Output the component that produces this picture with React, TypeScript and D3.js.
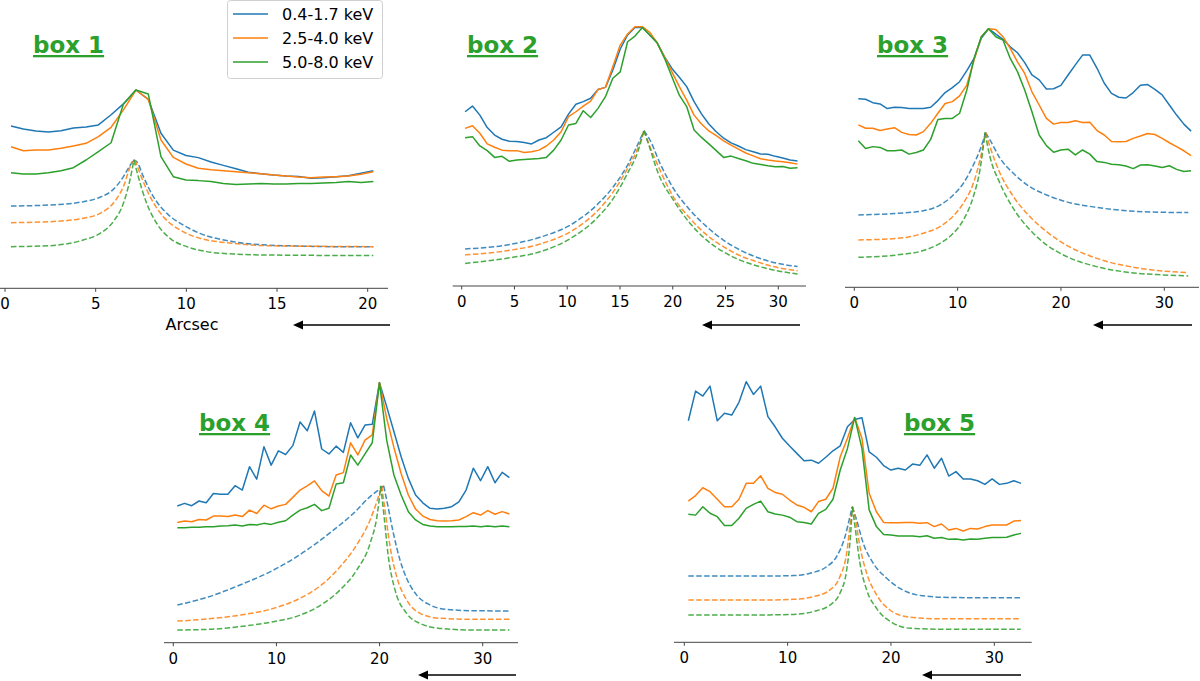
import * as d3 from "d3";

type Pt = [number, number];

const BLUE = "#1f77b4";
const ORANGE = "#ff7f0e";
const GREEN = "#2ca02c";
const bandLabels = ["0.4-1.7 keV", "2.5-4.0 keV", "5.0-8.0 keV"];
const bandColors = [BLUE, ORANGE, GREEN];

// ---- box 1 (profile values, arbitrary units, peak = 100)
const box1X = [0.33, 1.01, 1.71, 2.39, 3.09, 3.77, 4.47, 5.15, 5.85, 6.53, 7.22, 7.9, 8.6, 9.28, 9.98, 10.66, 11.36, 12.04, 12.74, 13.42, 14.12, 14.8, 15.5, 16.18, 16.88, 17.56, 18.26, 18.93, 19.63, 20.31];
const box1Soft = [81.8, 80.3, 79.3, 78.8, 79.4, 80.8, 81.3, 82.4, 87.5, 93, 100, 95.3, 78.2, 69.7, 67, 65.9, 63.7, 62, 60.3, 58.5, 57.8, 57.1, 56.6, 56.4, 55.5, 55.8, 56.3, 56.8, 58, 59.3];
const box1Mid = [71.4, 69.4, 69.7, 69.7, 70.6, 71.8, 73.1, 76.5, 81.2, 90, 100, 95.3, 74.8, 66, 62.7, 60.5, 59.8, 59.3, 58.8, 58.3, 57.8, 57.1, 56.6, 56.1, 55.8, 56.1, 56.3, 56.6, 57.5, 58.8];
const box1Hard = [58.3, 57.6, 57.6, 58.3, 59.3, 60.8, 64.7, 68.9, 73.4, 92.9, 100, 98, 66.4, 56.3, 54.6, 54.3, 53.8, 52.9, 52.4, 52.6, 52.9, 52.6, 52.6, 52.9, 52.9, 53.1, 53.3, 53.8, 53.3, 53.8];
const box1ModelSoft: Pt[] = [[0.33, 41.5], [2.48, 42], [4.32, 43.7], [5.24, 45.9], [5.97, 49.9], [6.53, 56.3], [6.8, 60.5], [7.08, 64.7], [7.26, 63.9], [7.63, 56.3], [8.18, 46.2], [8.92, 37.8], [9.83, 31.9], [10.75, 27.7], [12.59, 23.5], [14.43, 21.8], [16.27, 21.3], [18.1, 21], [20.31, 21]];
const box1ModelMid: Pt[] = [[0.33, 33.1], [2.48, 33.6], [4.32, 35.3], [5.24, 37.8], [5.97, 42.9], [6.53, 51.3], [6.99, 63], [7.17, 64.7], [7.44, 58], [8, 46.2], [8.73, 36.1], [9.65, 29.4], [10.75, 25.2], [12.59, 22.7], [14.43, 21.5], [20.31, 21]];
const box1ModelHard: Pt[] = [[0.33, 21], [2.48, 21.5], [4.32, 24.4], [5.24, 27.7], [5.97, 33.6], [6.53, 42.9], [6.89, 54.6], [7.11, 64.7], [7.35, 56.3], [7.81, 42.9], [8.36, 32.8], [9.1, 25.2], [10.02, 21], [11.12, 18.5], [12.59, 17.3], [14.43, 16.8], [20.31, 16.5]];

// ---- box 2
const box2X = [0.32, 1.02, 1.72, 2.42, 3.12, 3.82, 4.52, 5.22, 5.92, 6.62, 7.32, 8.02, 8.72, 9.42, 10.12, 10.82, 11.52, 12.22, 12.92, 13.62, 14.32, 15.02, 15.72, 16.42, 17.12, 17.82, 18.52, 19.22, 19.92, 20.62, 21.32, 22.02, 22.72, 23.42, 24.12, 24.82, 25.52, 26.22, 26.92, 27.62, 28.32, 29.02, 29.72, 30.42, 31.12, 31.82];
const box2Soft = [67.2, 69.4, 65.9, 61.1, 58.2, 56.6, 55.8, 55.7, 55.3, 54.8, 56.3, 57.2, 59.3, 61.4, 66.3, 70.1, 71.1, 72.4, 75.8, 76.6, 83.3, 91.4, 96.8, 99.7, 99.7, 96.8, 93.8, 88.4, 83.9, 80.5, 76.9, 71.1, 66.4, 62.5, 59.5, 57, 55.2, 54, 52.6, 51.8, 50.9, 50.8, 50, 49.4, 48.6, 48.2];
const box2Mid = [60.8, 61.8, 58.9, 54.8, 53.5, 52.4, 52.2, 52.2, 51.5, 51.8, 52.4, 54, 56.3, 59.5, 65.3, 67.2, 69.4, 71.3, 75.8, 76.6, 84.6, 92.9, 97.2, 100, 100, 97.8, 93.8, 88.4, 82.6, 76.9, 71.7, 65.9, 62.5, 59.8, 58, 56, 54.3, 52.8, 51.3, 50.2, 49.1, 48.6, 48.2, 47.9, 47.5, 47];
const box2Hard = [57.2, 57.6, 54, 52.2, 49.6, 50, 48.1, 48.6, 48.8, 49, 49.2, 49.6, 52.4, 56.3, 62.1, 62.7, 67.6, 65, 68.5, 73, 80.1, 82.6, 94.2, 96.4, 99.7, 96.8, 93.8, 87.8, 80.7, 73.6, 69.2, 60.2, 57.3, 54.8, 52.2, 49.6, 50.1, 49.2, 48.3, 47.3, 46.9, 46.4, 46, 46.1, 45.4, 45.6];
const box2ModelSoft: Pt[] = [[0.32, 14.3], [4.26, 15.8], [7.42, 18.8], [10.58, 24.2], [12.79, 31.2], [14.37, 38.3], [15.63, 46], [16.58, 53.7], [17.27, 59.9], [17.84, 56.3], [18.79, 47.3], [20.05, 37.7], [21.63, 29.3], [23.21, 22.9], [24.79, 17.7], [26.37, 13.9], [27.94, 11.1], [29.52, 9.1], [31.83, 7.5]];
const box2ModelMid: Pt[] = [[0.32, 12], [4.26, 13.6], [7.42, 16.2], [10.58, 21.6], [12.79, 28.7], [14.37, 36.4], [15.63, 44.7], [16.74, 53.7], [17.27, 59.9], [17.84, 53.7], [18.79, 44.7], [20.05, 34.4], [21.63, 26.1], [23.21, 19.7], [24.79, 15.2], [26.37, 11.7], [27.94, 9.4], [29.52, 7.5], [31.83, 5.9]];
const box2ModelHard: Pt[] = [[0.32, 8.7], [4.26, 10.7], [7.42, 13.2], [10.58, 19], [12.79, 26.1], [14.37, 33.8], [15.63, 42.8], [16.74, 52.4], [17.27, 59.9], [17.68, 55], [18.63, 43.4], [20.05, 33.2], [21.63, 24.2], [23.21, 17.7], [24.79, 13.2], [26.37, 10], [27.94, 7.8], [29.52, 6.2], [31.83, 4.6]];

// ---- boxes 3-5 share the same sampling
const box345X = [0.39, 1.09, 1.79, 2.49, 3.19, 3.89, 4.59, 5.29, 5.99, 6.69, 7.39, 8.09, 8.79, 9.49, 10.19, 10.89, 11.59, 12.29, 12.99, 13.69, 14.39, 15.09, 15.79, 16.49, 17.19, 17.89, 18.59, 19.29, 19.99, 20.69, 21.39, 22.09, 22.79, 23.49, 24.19, 24.89, 25.59, 26.29, 26.99, 27.69, 28.39, 29.09, 29.79, 30.49, 31.19, 31.89, 32.59];

const box3Soft = [72.9, 72.7, 71.4, 70.9, 69.1, 69.6, 69.5, 69.1, 69.1, 69.1, 69.6, 72.2, 75.3, 77.2, 79.5, 83.8, 88.5, 96.3, 100, 97.9, 95.9, 93, 90.7, 86.9, 82.1, 80.2, 76.7, 76.8, 78.1, 82.1, 86, 89.8, 89.8, 84.7, 78.9, 75, 73.5, 73.2, 75.3, 78.1, 78.4, 76.5, 74.4, 70.5, 66.6, 63.1, 60.4];
const box3Mid = [62.8, 61.5, 61.5, 60.6, 61.2, 61.7, 59.9, 59.1, 58.9, 60.2, 63.4, 67.3, 71.1, 71.8, 74, 78.2, 87.9, 96.9, 100, 99.7, 96.9, 92.4, 87.2, 82.7, 75.6, 70.5, 65.3, 63.1, 63.7, 63.7, 64.4, 63.7, 63.8, 60.6, 58.9, 56.4, 56.3, 56.4, 57.6, 58.5, 59.5, 59.1, 57.6, 55.9, 54.4, 52.8, 50.9];
const box3Hard = [56.7, 53.7, 54.4, 54.1, 52.8, 52.8, 53.1, 51.5, 52.1, 53.1, 57.2, 64.9, 65.3, 65.3, 67.3, 76.3, 88.5, 96.9, 100, 96.9, 95.6, 88.5, 83.4, 76.3, 67.9, 58.9, 54.8, 52.2, 53.1, 53.4, 51.2, 53.1, 51.5, 48.6, 48.3, 47.6, 47.4, 46.9, 45.9, 47.3, 47.4, 46.9, 46.3, 47, 45.6, 44.8, 45.1];
const box3ModelSoft: Pt[] = [[0.39, 28], [4.1, 28.6], [6.68, 29.6], [8.29, 31.8], [9.58, 35.7], [10.55, 40.2], [11.52, 47.3], [12.16, 53.1], [12.71, 59.8], [13.13, 57], [14.1, 49.9], [15.39, 44.1], [17, 38.9], [18.61, 35.7], [20.23, 33.4], [23.45, 30.9], [26.68, 29.5], [29.9, 29], [32.32, 28.9]];
const box3ModelMid: Pt[] = [[0.39, 18.3], [4.1, 18.9], [6.68, 20.9], [8.29, 23.5], [9.58, 27.6], [10.55, 32.5], [11.52, 40.2], [12.16, 49.2], [12.71, 59.8], [13.13, 54.4], [14.1, 44.1], [15.39, 35.1], [17, 27.3], [18.61, 21.5], [20.23, 17], [23.45, 11.2], [26.68, 8], [29.9, 6.3], [32.32, 5.7]];
const box3ModelHard: Pt[] = [[0.39, 11.6], [4.1, 12.5], [6.68, 14.2], [8.29, 17], [9.58, 20.9], [10.55, 26], [11.52, 35.1], [12.16, 45.4], [12.65, 59.8], [13.13, 50.5], [14.1, 40.2], [15.39, 30.5], [17, 22.2], [18.61, 16.4], [20.23, 12.5], [23.45, 8], [26.68, 5.7], [29.9, 4.8], [32.32, 4.4]];

const box4Soft = [52.6, 53.6, 52.7, 54.5, 53.8, 57.4, 57.1, 57.1, 60.4, 58.7, 67.7, 62.9, 75.4, 68.3, 73.8, 72.4, 75.8, 84.9, 81.5, 89.1, 74.5, 72.6, 75.6, 73.2, 84.6, 78.8, 83.7, 84, 100, 90.8, 81.2, 71.5, 63.2, 56.8, 53.8, 51.7, 51.4, 51.7, 52.3, 54.2, 58.7, 67.1, 62.3, 67.7, 61.5, 65.5, 63.5];
const box4Mid = [46.2, 46.8, 46.5, 47.4, 47.2, 48.7, 48.7, 48.5, 49.1, 48.5, 51, 49.7, 52.9, 51.5, 52.6, 53.2, 55.9, 58.7, 60.3, 62.2, 58.5, 56.4, 64.5, 65.4, 76.9, 72.2, 77.9, 79.9, 100, 86.3, 75.1, 65.1, 56.8, 51.4, 48.7, 47.4, 46.9, 46.8, 46.9, 47.2, 48.5, 50, 49.1, 50.8, 49.4, 50.4, 49.5];
const box4Hard = [44.2, 44.2, 44.4, 44.4, 44.6, 44.6, 44.9, 45, 45.3, 44.9, 45.5, 45.3, 45.9, 45.5, 46.3, 46.9, 49.1, 51, 51.9, 53.2, 50.8, 51.7, 61, 61.5, 72.2, 68.3, 72.6, 76.9, 100, 77.9, 64.5, 56.8, 50.4, 47.2, 45.5, 44.9, 44.6, 44.6, 44.6, 44.7, 44.7, 44.9, 44.6, 44.9, 44.6, 44.9, 44.6];
const box4ModelSoft: Pt[] = [[0.39, 14.5], [3.23, 17.4], [6.47, 22.2], [9.7, 27.9], [12.93, 35.6], [15.52, 43.3], [17.46, 49.7], [19.08, 56.2], [19.89, 58.7], [20.4, 60.3], [20.69, 54.9], [21.34, 42.1], [21.98, 31.8], [22.63, 24.7], [23.6, 18.3], [24.9, 14.5], [26.51, 12.8], [29.1, 12.3], [32.59, 12.2]];
const box4ModelMid: Pt[] = [[0.39, 8.3], [3.23, 9.1], [6.47, 10.6], [9.7, 13.2], [12.29, 17.1], [14.55, 22.8], [16.17, 29.2], [17.78, 37.6], [19.08, 47.2], [19.79, 54.9], [20.21, 60.3], [20.53, 51], [21.02, 36.9], [21.66, 25.4], [22.63, 16.4], [23.92, 11.3], [25.86, 9.4], [29.1, 9], [32.59, 9]];
const box4ModelHard: Pt[] = [[0.39, 4.9], [3.23, 5.1], [6.47, 6.2], [9.7, 8.1], [12.29, 10.6], [14.55, 15.1], [16.17, 20.3], [17.78, 27.9], [19.08, 38.2], [19.79, 49.7], [20.11, 60.3], [20.44, 48.5], [20.85, 33.1], [21.5, 20.3], [22.63, 11.3], [23.92, 7.4], [25.86, 5.5], [29.1, 4.9], [32.59, 4.9]];

const box5Soft = [85, 96.4, 94.5, 98.3, 85, 87.9, 87.2, 92.1, 100, 95.1, 98.3, 86.6, 82.7, 78.3, 75.3, 72.5, 69.7, 69.9, 68.7, 71, 73.5, 75.4, 82.7, 85.5, 86.2, 73.1, 71, 67.8, 66.1, 66.8, 66.1, 68.4, 67.9, 71.9, 66.8, 70.6, 63.8, 65.5, 62.7, 62.7, 62, 60.6, 62.7, 60.6, 61, 62, 61];
const box5Mid = [54.2, 56.3, 59.3, 57.8, 54.9, 52, 52, 54.9, 61, 61, 63.9, 59.1, 57.5, 56.8, 54.6, 52.7, 51.8, 50.1, 54, 54.9, 59.1, 71.2, 78.3, 86.3, 78.3, 57.2, 50.1, 46, 45.9, 45.9, 46, 46, 45.7, 45.9, 44.4, 45.4, 43.1, 43.7, 42.7, 43.7, 43.5, 44.4, 45, 45, 45, 46.5, 46.7];
const box5Hard = [49.1, 48.8, 52, 49.5, 48.2, 44.8, 44.8, 47.6, 51.4, 52.9, 54.2, 50.1, 49.2, 48.8, 48, 46.3, 46, 45.4, 49.5, 51, 54.9, 66.1, 74.4, 86.3, 74.4, 50.8, 44.4, 41.4, 41.2, 40.8, 40.8, 40.8, 40.5, 40.9, 39.9, 40.2, 39.5, 39.6, 39.3, 39.6, 39.5, 39.9, 40.2, 40.2, 40.3, 41.2, 41.8];
const box5ModelSoft: Pt[] = [[0.39, 25.4], [7.32, 25.4], [10.55, 25.6], [12.16, 26.5], [13.77, 29], [14.74, 32.9], [15.55, 40.5], [16.03, 48.2], [16.26, 52], [16.68, 46.9], [17.32, 38], [18.29, 30.3], [19.58, 24.6], [20.87, 20.7], [22.48, 18.2], [25.06, 17.3], [28.29, 17.1], [32.55, 17.1]];
const box5ModelMid: Pt[] = [[0.39, 16.2], [7.32, 16.2], [10.55, 16.5], [12.48, 17.5], [14.1, 20.1], [15.06, 25.2], [15.71, 34.1], [16.1, 46.9], [16.29, 52], [16.52, 48.2], [17, 36.7], [17.65, 26.5], [18.61, 18.2], [19.9, 12.4], [21.84, 9.6], [25.06, 9], [32.55, 9]];
const box5ModelHard: Pt[] = [[0.39, 10.5], [7.32, 10.5], [10.55, 10.7], [12.48, 11.8], [14.1, 14.3], [15.06, 18.8], [15.71, 27.7], [16.1, 41.8], [16.26, 52], [16.52, 44.4], [17, 30.3], [17.65, 20.1], [18.61, 13], [20.23, 7.3], [21.84, 5.4], [25.06, 5], [32.55, 5]];

const ticks1 = [0, 5, 10, 15, 20];
const ticks2 = [0, 5, 10, 15, 20, 25, 30];
const ticks345 = [0, 10, 20, 30];

interface PanelDef {
  title: string;
  titleX: number;
  titleY: number;
  x: number[];
  profiles: number[][];
  models: Pt[][];
  ticks: number[];
  xDomain: [number, number];
  xRange: [number, number];
  spine: [number, number];
  yRange: [number, number];
  arrow: [number, number, number];
  xLabel?: boolean;
}

const panels: PanelDef[] = [
  { title: "box 1", titleX: 33, titleY: 53, x: box1X, profiles: [box1Soft, box1Mid, box1Hard], models: [box1ModelSoft, box1ModelMid, box1ModelHard], ticks: ticks1, xDomain: [0, 20], xRange: [5, 367.7], spine: [0, 388], yRange: [288.3, 90], arrow: [293, 390, 325], xLabel: true },
  { title: "box 2", titleX: 467, titleY: 53, x: box2X, profiles: [box2Soft, box2Mid, box2Hard], models: [box2ModelSoft, box2ModelMid, box2ModelHard], ticks: ticks2, xDomain: [0, 30], xRange: [461.7, 778.3], spine: [452.7, 806], yRange: [286, 26.7], arrow: [702, 800, 325] },
  { title: "box 3", titleX: 877, titleY: 53, x: box345X, profiles: [box3Soft, box3Mid, box3Hard], models: [box3ModelSoft, box3ModelMid, box3ModelHard], ticks: ticks345, xDomain: [0, 30], xRange: [854.3, 1164.3], spine: [845, 1199], yRange: [287.3, 28.7], arrow: [1093, 1192, 325] },
  { title: "box 4", titleX: 199, titleY: 431, x: box345X, profiles: [box4Soft, box4Mid, box4Hard], models: [box4ModelSoft, box4ModelMid, box4ModelHard], ticks: ticks345, xDomain: [0, 30], xRange: [173.3, 482.7], spine: [164, 518], yRange: [642.7, 382.7], arrow: [418, 516, 675] },
  { title: "box 5", titleX: 904, titleY: 431, x: box345X, profiles: [box5Soft, box5Mid, box5Hard], models: [box5ModelSoft, box5ModelMid, box5ModelHard], ticks: ticks345, xDomain: [0, 30], xRange: [684.3, 994.3], spine: [674, 1031.7], yRange: [642.3, 381.7], arrow: [922, 1021, 675] },
];

const FONT = "DejaVu Sans, sans-serif";

function Panel({ p }: { p: PanelDef }) {
  const x = d3.scaleLinear().domain(p.xDomain).range(p.xRange);
  const y = d3.scaleLinear().domain([0, 100]).range(p.yRange);
  const polyline = d3.line<Pt>().x((d) => x(d[0])).y((d) => y(d[1]));
  const smooth = d3.line<Pt>().x((d) => x(d[0])).y((d) => y(d[1])).curve(d3.curveMonotoneX);
  const axisY = p.yRange[0];
  const [ax0, ax1, ay] = p.arrow;

  return (
    <g>
      {/* model curves: smooth on each side of the cusp */}
      {p.models.map((m, i) => {
        const k = d3.maxIndex(m, (d) => d[1]);
        return [m.slice(0, k + 1), m.slice(k)].map((half, j) => (
          <path
            key={`m${i}-${j}`}
            d={smooth(half) ?? ""}
            fill="none"
            stroke={bandColors[i]}
            strokeWidth={1.5}
            strokeDasharray="5.5,2.4"
            opacity={0.85}
          />
        ));
      })}
      {p.profiles.map((vals, i) => (
        <path
          key={`p${i}`}
          d={polyline(vals.map((v, j) => [p.x[j], v] as Pt)) ?? ""}
          fill="none"
          stroke={bandColors[i]}
          strokeWidth={1.5}
          strokeLinejoin="round"
        />
      ))}

      {/* x axis */}
      <line x1={p.spine[0]} x2={p.spine[1]} y1={axisY} y2={axisY} stroke="#444" strokeWidth={1} />
      {p.ticks.map((t) => (
        <g key={t} transform={`translate(${x(t)},${axisY})`}>
          <line y2={3.5} stroke="#444" strokeWidth={1} />
          <text y={21} textAnchor="middle" fontSize={15} fontFamily={FONT} fill="#000">
            {t}
          </text>
        </g>
      ))}
      {p.xLabel && (
        <text x={192} y={330} textAnchor="middle" fontSize={16} fontFamily={FONT} fill="#000">
          Arcsec
        </text>
      )}

      {/* direction arrow */}
      <line x1={ax0 + 8} x2={ax1} y1={ay} y2={ay} stroke="#000" strokeWidth={1.6} />
      <path d={`M${ax0},${ay} L${ax0 + 10},${ay - 4.5} L${ax0 + 10},${ay + 4.5} Z`} fill="#000" />

      <text
        x={p.titleX}
        y={p.titleY}
        fontSize={23}
        fontWeight="bold"
        fontFamily={FONT}
        fill={GREEN}
        textDecoration="underline"
      >
        {p.title}
      </text>
    </g>
  );
}

function Legend() {
  return (
    <g>
      <rect x={227.5} y={0.5} width={155} height={78} rx={3} fill="#fff" stroke="#d0d0d0" strokeWidth={1} />
      {bandLabels.map((label, i) => (
        <g key={label} transform={`translate(0,${14 + i * 24})`}>
          <line x1={233} x2={268} stroke={bandColors[i]} strokeWidth={1.5} />
          <text x={282} y={0} dy="0.36em" fontSize={16} fontFamily={FONT} fill="#000">
            {label}
          </text>
        </g>
      ))}
    </g>
  );
}

export default function App() {
  return (
    <svg
      width={1200}
      height={681}
      style={{ position: "absolute", left: 0, top: 0, background: "#fff" }}
    >
      {panels.map((p) => (
        <Panel key={p.title} p={p} />
      ))}
      <Legend />
    </svg>
  );
}
